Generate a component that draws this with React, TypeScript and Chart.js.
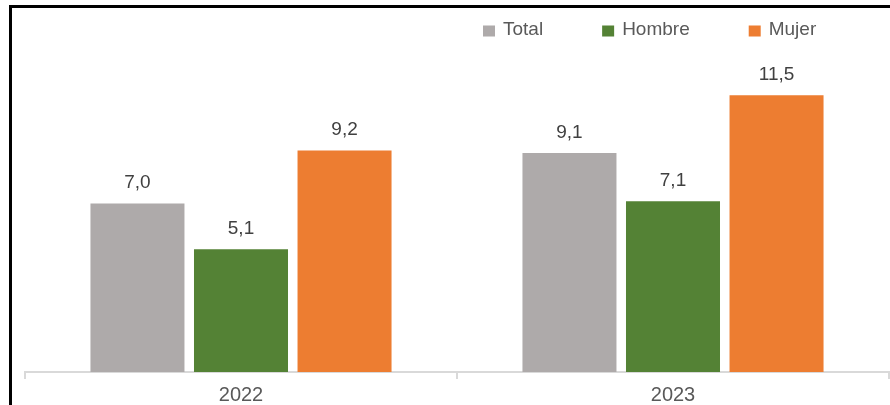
import React, { useEffect, useRef } from 'react';
import { Chart, registerables } from 'chart.js';

Chart.register(...registerables);

const categories = ['2022', '2023'];
const seriesNames = ['Total', 'Hombre', 'Mujer'];
const totalValues = [7.0, 9.1];
const hombreValues = [5.1, 7.1];
const mujerValues = [9.2, 11.5];
const seriesColors = ['#AEAAAA', '#548235', '#ED7D31'];

const FONT = "'Liberation Sans', Arial, sans-serif";

const valueLabels = {
  id: 'valueLabels',
  afterDatasetsDraw(chart: any) {
    const ctx = chart.ctx;
    ctx.save();
    ctx.font = `19px ${FONT}`;
    ctx.fillStyle = '#404040';
    ctx.textAlign = 'center';
    ctx.textBaseline = 'middle';
    chart.data.datasets.forEach((ds: any, i: number) => {
      const meta = chart.getDatasetMeta(i);
      meta.data.forEach((el: any, j: number) => {
        const v = ds.data[j] as number;
        ctx.fillText(v.toFixed(1).replace('.', ','), el.x, el.y - 20.5);
      });
    });
    ctx.restore();
  },
};

const topLegend = {
  id: 'topLegend',
  afterDraw(chart: any, _args: any, opts: any) {
    const ctx = chart.ctx;
    ctx.save();
    ctx.font = `19px ${FONT}`;
    ctx.textBaseline = 'middle';
    ctx.textAlign = 'left';
    let x = opts.x;
    const y = opts.y;
    chart.data.datasets.forEach((ds: any) => {
      ctx.fillStyle = ds.backgroundColor;
      ctx.fillRect(x, y - 4.5, 12, 11);
      ctx.fillStyle = '#595959';
      ctx.fillText(ds.label, x + 20, y);
      x += 20 + ctx.measureText(ds.label).width + 59;
    });
    ctx.restore();
  },
};

export default function App() {
  const canvasRef = useRef<HTMLCanvasElement | null>(null);

  useEffect(() => {
    if (!canvasRef.current) return;
    const seriesValues = [totalValues, hombreValues, mujerValues];
    const chart = new Chart(canvasRef.current, {
      type: 'bar',
      data: {
        labels: categories,
        datasets: seriesNames.map((name, i) => ({
          label: name,
          data: seriesValues[i],
          backgroundColor: seriesColors[i],
          borderWidth: 0,
          categoryPercentage: 0.719,
          barPercentage: 0.908,
        })),
      },
      options: {
        animation: false,
        responsive: true,
        maintainAspectRatio: false,
        layout: { padding: { left: 13, right: 1, top: 3, bottom: 0 } },
        plugins: {
          legend: { display: false },
          tooltip: { enabled: false },
          topLegend: { x: 471, y: 22 },
        } as any,
        scales: {
          x: {
            grid: {
              display: true,
              drawOnChartArea: false,
              drawTicks: true,
              tickLength: 7,
              color: '#D9D9D9',
              lineWidth: 2,
              offset: true,
            },
            border: { display: true, color: '#D9D9D9', width: 2 },
            ticks: {
              color: '#595959',
              padding: 4,
              font: { family: FONT, size: 20 },
            },
          },
          y: {
            display: false,
            min: 0,
            max: 15,
          },
        },
      },
      plugins: [valueLabels, topLegend],
    });
    return () => chart.destroy();
  }, []);

  return (
    <div
      style={{
        position: 'fixed',
        left: 0,
        top: 0,
        width: 890,
        height: 405,
        overflow: 'hidden',
        background: '#FFFFFF',
      }}
    >
      <div
        style={{
          position: 'absolute',
          left: 9,
          top: 5,
          width: 881,
          height: 406,
          borderTop: '3px solid #000000',
          borderLeft: '3px solid #000000',
          boxSizing: 'border-box',
        }}
      >
        <div style={{ position: 'relative', width: 878, height: 403 }}>
          <canvas ref={canvasRef} />
        </div>
      </div>
    </div>
  );
}
